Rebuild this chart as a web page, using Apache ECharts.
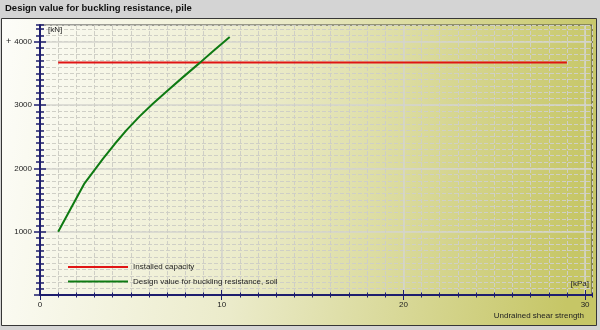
<!DOCTYPE html>
<html>
<head>
<meta charset="utf-8">
<script src="https://cdn.jsdelivr.net/npm/echarts@6/dist/echarts.min.js"></script>
<style>
html,body{margin:0;padding:0;background:#d4d4d4;}
#chart{width:600px;height:330px;}
</style>
</head>
<body>
<div id="chart"></div>
<script>
// ---- data ----
var titleText = 'Design value for buckling resistance, pile';
var xAxisName = 'Undrained shear strength';
var xUnit = '[kPa]';
var yUnit = '[kN]';
var seriesNames = ['Installed capacity', 'Design value for buckling resistance, soil'];

var installedX = [1, 29];
var installedY = [3670, 3670];

var soilX = [1, 2.45, 3.46, 4.1, 4.75, 5.48, 6.21, 6.95, 7.87, 8.79, 9.52, 10.44];
var soilY = [1000, 1764, 2150, 2380, 2600, 2820, 3020, 3210, 3440, 3665, 3850, 4075];

var xMajorTicks = [0, 10, 20, 30];
var yMajorTicks = [0, 1000, 2000, 3000, 4000];
var yTickLabels = [1000, 2000, 3000, 4000];

var xMin = 0, xMax = 30.38;
var yMin = 0, yMax = 4263;

function zip(xs, ys) { return xs.map(function (x, i) { return [x, ys[i]]; }); }

var FONT = 'Liberation Sans';
var NAVY = '#1e1e6e';
var DASH = { color: '#cfcfc6', width: 1, type: [4, 2] };
var SOLID = { color: '#d4d4ce', width: 1.5 };

function mkX(opts) {
  var base = {
    type: 'value', min: xMin, max: xMax, position: 'bottom',
    axisLine: { show: false, onZero: false },
    axisTick: { show: false },
    axisLabel: { show: false },
    splitLine: { show: false }
  };
  return Object.assign(base, opts);
}
function mkY(opts) {
  var base = {
    type: 'value', min: yMin, max: yMax, position: 'left',
    axisLine: { show: false, onZero: false },
    axisTick: { show: false },
    axisLabel: { show: false },
    splitLine: { show: false }
  };
  return Object.assign(base, opts);
}
function plain(v) { return String(v); }

var chart = echarts.init(document.getElementById('chart'), null, { renderer: 'canvas' });

var option = {
  animation: false,
  backgroundColor: '#d4d4d4',
  title: {
    text: titleText, left: 5, top: 3, padding: 0,
    textStyle: { fontFamily: FONT, fontSize: 9.5, fontWeight: 'bold', color: '#111' }
  },
  grid: {
    left: 40, top: 25, right: 8, bottom: 35,
    show: true, backgroundColor: 'transparent', borderColor: '#454545', borderWidth: 1
  },
  legend: {
    orient: 'vertical', left: 68, top: 262, padding: 0, itemGap: 4.5,
    itemWidth: 60, itemHeight: 2, icon: 'rect',
    textStyle: { fontFamily: FONT, fontSize: 8, color: '#222', lineHeight: 10 },
    data: seriesNames
  },
  xAxis: [
    mkX({ interval: 1,
      axisLine: { show: true, onZero: false, lineStyle: { color: NAVY, width: 2 } },
      axisTick: { show: true, inside: false, length: 2.5, lineStyle: { color: NAVY, width: 1 } },
      splitLine: { show: true, lineStyle: DASH } }),
    mkX({ interval: 1,
      axisTick: { show: true, inside: true, length: 2.5, lineStyle: { color: NAVY, width: 1 } } }),
    mkX({ interval: 10,
      axisTick: { show: true, inside: false, length: 5, customValues: xMajorTicks, lineStyle: { color: NAVY, width: 1 } },
      axisLabel: { show: true, margin: 6, customValues: xMajorTicks, formatter: plain,
        fontFamily: FONT, fontSize: 8, color: '#222' },
      splitLine: { show: true, lineStyle: SOLID } }),
    mkX({ interval: 10,
      axisTick: { show: true, inside: true, length: 5, customValues: xMajorTicks, lineStyle: { color: NAVY, width: 1 } } })
  ],
  yAxis: [
    mkY({ interval: 100,
      axisLine: { show: true, onZero: false, lineStyle: { color: NAVY, width: 2 } },
      axisTick: { show: true, inside: false, length: 4, lineStyle: { color: NAVY, width: 1.5 } },
      splitLine: { show: true, lineStyle: DASH } }),
    mkY({ interval: 100,
      axisTick: { show: true, inside: true, length: 4, lineStyle: { color: NAVY, width: 1.5 } } }),
    mkY({ interval: 1000,
      axisTick: { show: true, inside: false, length: 6, customValues: yMajorTicks, lineStyle: { color: NAVY, width: 1.5 } },
      axisLabel: { show: true, margin: 8, customValues: yTickLabels, formatter: plain,
        fontFamily: FONT, fontSize: 8, color: '#222' },
      splitLine: { show: true, lineStyle: SOLID } }),
    mkY({ interval: 1000,
      axisTick: { show: true, inside: true, length: 6, customValues: yMajorTicks, lineStyle: { color: NAVY, width: 1.5 } } })
  ],
  graphic: [
    { type: 'rect', z: -10, silent: true,
      shape: { x: 1.5, y: 18.5, width: 595, height: 307 },
      style: {
        fill: new echarts.graphic.LinearGradient(0, 0, 1, 0.3, [
          { offset: 0, color: '#fdfdf9' },
          { offset: 0.45, color: '#ebebca' },
          { offset: 1, color: '#c6c666' }
        ]),
        stroke: '#363636', lineWidth: 1
      } },
    { type: 'text', z: 10, left: 6, top: 37,
      style: { text: '+', fontFamily: FONT, fontSize: 9, fill: '#222' } },
    { type: 'text', z: 10, left: 48, top: 26,
      style: { text: yUnit, fontFamily: FONT, fontSize: 8, fill: '#222' } },
    { type: 'text', z: 10, right: 11, top: 280,
      style: { text: xUnit, fontFamily: FONT, fontSize: 8, fill: '#222' } },
    { type: 'text', z: 10, right: 16, top: 312,
      style: { text: xAxisName, fontFamily: FONT, fontSize: 8, fill: '#222' } }
  ],
  series: [
    { name: seriesNames[0], type: 'line', xAxisIndex: 0, yAxisIndex: 0,
      symbol: 'none', data: zip(installedX, installedY),
      itemStyle: { color: '#e01414' }, lineStyle: { color: '#e01414', width: 2 }, z: 5 },
    { name: seriesNames[1], type: 'line', xAxisIndex: 0, yAxisIndex: 0,
      symbol: 'none', data: zip(soilX, soilY),
      itemStyle: { color: '#0e7a12' }, lineStyle: { color: '#0e7a12', width: 2 }, z: 5 }
  ]
};
chart.setOption(option);
</script>
</body>
</html>
